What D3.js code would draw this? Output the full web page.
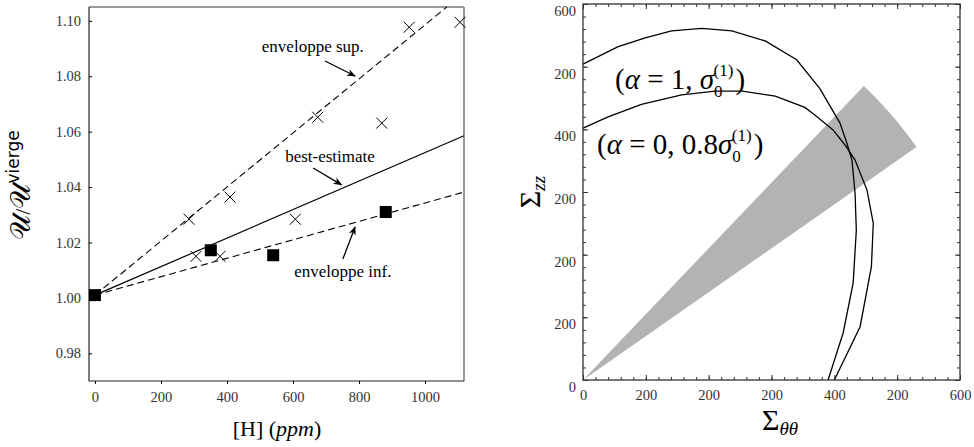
<!DOCTYPE html>
<html>
<head>
<meta charset="utf-8">
<script src="https://cdn.jsdelivr.net/npm/d3@7"></script>
<style>
	body { margin: 0; background: #fff; }
	svg { display: block; font-family: "Liberation Serif", "DejaVu Serif", serif; }
	.domain { display: none; }
</style>
</head>
<body>
<svg width="974" height="447"></svg>
<script>
// ---- left panel data : [H] (ppm) vs U/U_vierge
var squareH = [0, 351, 540, 881];
var squareU = [1.001, 1.0172, 1.0154, 1.031];
var crossH = [285, 306, 379, 409, 607, 675, 869, 952, 1106];
var crossU = [1.0284, 1.015, 1.015, 1.0364, 1.0284, 1.0652, 1.0631, 1.0977, 1.0995];
var supLine = [[0, 1.001], [1066, 1.105]];
var bestLine = [[0, 1.001], [1118, 1.0585]];
var infLine = [[0, 1.001], [1118, 1.0382]];
var leftXTicks = [0, 200, 400, 600, 800, 1000];
var leftYTicks = [0.98, 1.00, 1.02, 1.04, 1.06, 1.08, 1.10];

// ---- right panel data : Sigma_thetatheta vs Sigma_zz
var curveA = [[0, 504], [56, 532], [99, 546], [141, 557], [189, 561], [237, 557], [290, 541], [340, 511],
	[377, 465], [409, 410], [420, 378], [428, 351], [433, 298], [435, 239], [430, 155], [414, 75], [390, 0]];
var curveB = [[0, 402], [40, 420], [93, 440], [157, 455], [210, 461], [253, 461], [306, 453], [353, 435],
	[369, 423], [398, 399], [417, 375], [433, 351], [452, 303], [462, 250], [459, 181], [441, 85], [400, 0]];
var wedgeAngles = [35.0, 46.4]; // degrees
var wedgeRadius = 648;
var rightTicks = [0, 100, 200, 300, 400, 500, 600];
var rightTickLabels = ["0", "200", "200", "200", "400", "200", "600"];

var svg = d3.select("svg");
var serif = "'Liberation Serif', 'DejaVu Serif', serif";

function styleAxis(g) {
	g.attr("font-family", serif).attr("font-size", 14.5);
	g.selectAll("text").attr("fill", "#333");
}

// ================= left panel =================
var x1 = d3.scaleLinear().domain([-18, 1118]).range([89, 464]);
var y1 = d3.scaleLinear().domain([0.97, 1.105]).range([381, 7]);

var gl = svg.append("g");

gl.append("defs").append("marker")
	.attr("id", "arr")
	.attr("viewBox", "0 0 10 10")
	.attr("refX", 9).attr("refY", 5)
	.attr("markerWidth", 9).attr("markerHeight", 9)
	.attr("markerUnits", "userSpaceOnUse")
	.attr("orient", "auto")
	.append("path")
	.attr("d", "M0,1 L10,5 L0,9 L3,5 Z")
	.attr("fill", "#000");

// frame
gl.append("line").attr("x1", 464).attr("x2", 464).attr("y1", 7).attr("y2", 381).attr("stroke", "#777").attr("stroke-width", 1.5);
gl.append("line").attr("x1", 89).attr("x2", 464).attr("y1", 7).attr("y2", 7).attr("stroke", "#777").attr("stroke-width", 1.5);
gl.append("line").attr("x1", 89).attr("x2", 89).attr("y1", 7).attr("y2", 381).attr("stroke", "#222").attr("stroke-width", 1.2);
gl.append("line").attr("x1", 89).attr("x2", 464).attr("y1", 381).attr("y2", 381).attr("stroke", "#222").attr("stroke-width", 1.2);

gl.append("g").attr("transform", "translate(89,0)")
	.call(d3.axisLeft(y1).tickValues(leftYTicks).tickSize(-3).tickPadding(8).tickFormat(d3.format(".2f")))
	.call(styleAxis);
gl.append("g").attr("transform", "translate(0,381)")
	.call(d3.axisBottom(x1).tickValues(leftXTicks).tickSize(3).tickPadding(8).tickFormat(d3.format("d")))
	.call(styleAxis);

var line1 = d3.line().x(function(d) { return x1(d[0]); }).y(function(d) { return y1(d[1]); });

gl.append("path").attr("d", line1(supLine)).attr("fill", "none").attr("stroke", "#000").attr("stroke-width", 1.1).attr("stroke-dasharray", "7,4");
gl.append("path").attr("d", line1(infLine)).attr("fill", "none").attr("stroke", "#000").attr("stroke-width", 1.1).attr("stroke-dasharray", "7,4");
gl.append("path").attr("d", line1(bestLine)).attr("fill", "none").attr("stroke", "#000").attr("stroke-width", 1.2);

gl.selectAll(".cross").data(crossH).enter().append("path")
	.attr("d", function(d, i) {
		var cx = x1(d), cy = y1(crossU[i]), s = 5.5;
		return "M" + (cx - s) + "," + (cy - s) + "L" + (cx + s) + "," + (cy + s) +
			"M" + (cx - s) + "," + (cy + s) + "L" + (cx + s) + "," + (cy - s);
	})
	.attr("stroke", "#000").attr("stroke-width", 1);

gl.selectAll(".sq").data(squareH).enter().append("rect")
	.attr("x", function(d) { return x1(d) - 6; })
	.attr("y", function(d, i) { return y1(squareU[i]) - 6; })
	.attr("width", 12).attr("height", 12)
	.attr("fill", "#000");

// annotations
var notes = [
	{ t: "enveloppe sup.", x: 660, y: 1.0888, a: [697, 1.0855, 788, 1.0801] },
	{ t: "best-estimate", x: 712, y: 1.0491, a: [661, 1.0469, 747, 1.0408] },
	{ t: "enveloppe inf.", x: 751, y: 1.0075, a: [751, 1.0140, 788, 1.0256] }
];
notes.forEach(function(n) {
	gl.append("text").attr("x", x1(n.x)).attr("y", y1(n.y))
		.attr("text-anchor", "middle").attr("font-size", 17).text(n.t);
	gl.append("line")
		.attr("x1", x1(n.a[0])).attr("y1", y1(n.a[1]))
		.attr("x2", x1(n.a[2])).attr("y2", y1(n.a[3]))
		.attr("stroke", "#000").attr("stroke-width", 1.3)
		.attr("marker-end", "url(#arr)");
});

// axis titles
var xt = gl.append("text").attr("x", 277).attr("y", 436).attr("text-anchor", "middle").attr("font-size", 22);
xt.append("tspan").text("[H] (");
xt.append("tspan").attr("font-style", "italic").text("ppm");
xt.append("tspan").text(")");

var yt = gl.append("text").attr("transform", "translate(30,185) rotate(-90)").attr("text-anchor", "middle");
yt.append("tspan").attr("font-size", 28).text("𝒰");
yt.append("tspan").attr("font-size", 22).text("/");
yt.append("tspan").attr("font-size", 28).text("𝒰");
yt.append("tspan").attr("font-size", 17).attr("font-family", "DejaVu Sans, sans-serif").attr("dy", -11).text("vierge");

// ================= right panel =================
var x2 = d3.scaleLinear().domain([0, 600]).range([583, 960]);
var y2 = d3.scaleLinear().domain([0, 600]).range([380, 4]);
var gr = svg.append("g");

// gray wedge
var wedge = [[0, 0]];
d3.range(0, 21).forEach(function(k) {
	var a = (wedgeAngles[1] - (wedgeAngles[1] - wedgeAngles[0]) * k / 20) * Math.PI / 180;
	wedge.push([wedgeRadius * Math.cos(a), wedgeRadius * Math.sin(a)]);
});
var line2 = d3.line().x(function(d) { return x2(d[0]); }).y(function(d) { return y2(d[1]); });
gr.append("path").attr("d", line2(wedge) + "Z").attr("fill", "#b3b3b3");

gr.append("path").attr("d", line2(curveA)).attr("fill", "none").attr("stroke", "#000").attr("stroke-width", 1.3);
gr.append("path").attr("d", line2(curveB)).attr("fill", "none").attr("stroke", "#000").attr("stroke-width", 1.3);

gr.append("rect").attr("x", 583).attr("y", 4).attr("width", 377).attr("height", 376)
	.attr("fill", "none").attr("stroke", "#333").attr("stroke-width", 1.3);

var minor = d3.range(0, 601, 20);
function fmt(d) { return rightTickLabels[rightTicks.indexOf(d)]; }

gr.append("g").attr("transform", "translate(583,0)").call(d3.axisLeft(y2).tickValues(minor).tickSize(-3).tickFormat(""));
gr.append("g").attr("transform", "translate(960,0)").call(d3.axisRight(y2).tickValues(minor).tickSize(-3).tickFormat(""));
gr.append("g").attr("transform", "translate(0,380)").call(d3.axisBottom(x2).tickValues(minor).tickSize(-3).tickFormat(""));
gr.append("g").attr("transform", "translate(0,4)").call(d3.axisTop(x2).tickValues(minor).tickSize(-3).tickFormat(""));

gr.append("g").attr("transform", "translate(583,0)")
	.call(d3.axisLeft(y2).tickValues(rightTicks).tickSize(-5).tickPadding(7).tickFormat(fmt))
	.call(styleAxis)
	.selectAll("text").attr("dy", "0.8em");
gr.append("g").attr("transform", "translate(960,0)").call(d3.axisRight(y2).tickValues(rightTicks).tickSize(-5).tickFormat(""));
gr.append("g").attr("transform", "translate(0,380)")
	.call(d3.axisBottom(x2).tickValues(rightTicks).tickSize(-5).tickPadding(10).tickFormat(fmt))
	.call(styleAxis);
gr.append("g").attr("transform", "translate(0,4)").call(d3.axisTop(x2).tickValues(rightTicks).tickSize(-5).tickFormat(""));
gr.selectAll(".tick line").attr("stroke", "#333");

// curve labels
function label(xp, yp, a, b) {
	var t = gr.append("text").attr("x", xp).attr("y", yp).attr("font-size", 29);
	t.append("tspan").text("(");
	t.append("tspan").attr("font-style", "italic").text("α");
	t.append("tspan").text(" = " + a + ", " + b);
	t.append("tspan").attr("font-style", "italic").text("σ");
	t.append("tspan").attr("font-size", 17).attr("dy", 8).text("0");
	t.append("tspan").attr("font-size", 17).attr("dx", -9).attr("dy", -21).text("(1)");
	t.append("tspan").attr("dy", 13).attr("dx", 2).text(")");
}
label(615, 89, "1", "");
label(597, 154, "0", "0.8");

var sx = gr.append("text").attr("x", 780).attr("y", 430).attr("text-anchor", "middle");
sx.append("tspan").attr("font-size", 30).text("Σ");
sx.append("tspan").attr("font-size", 19).attr("font-style", "italic").attr("dy", 5).text("θθ");

var sy = gr.append("text").attr("transform", "translate(540,192) rotate(-90)").attr("text-anchor", "middle");
sy.append("tspan").attr("font-size", 30).text("Σ");
sy.append("tspan").attr("font-size", 19).attr("font-style", "italic").attr("dy", 5).text("zz");
</script>
</body>
</html>
